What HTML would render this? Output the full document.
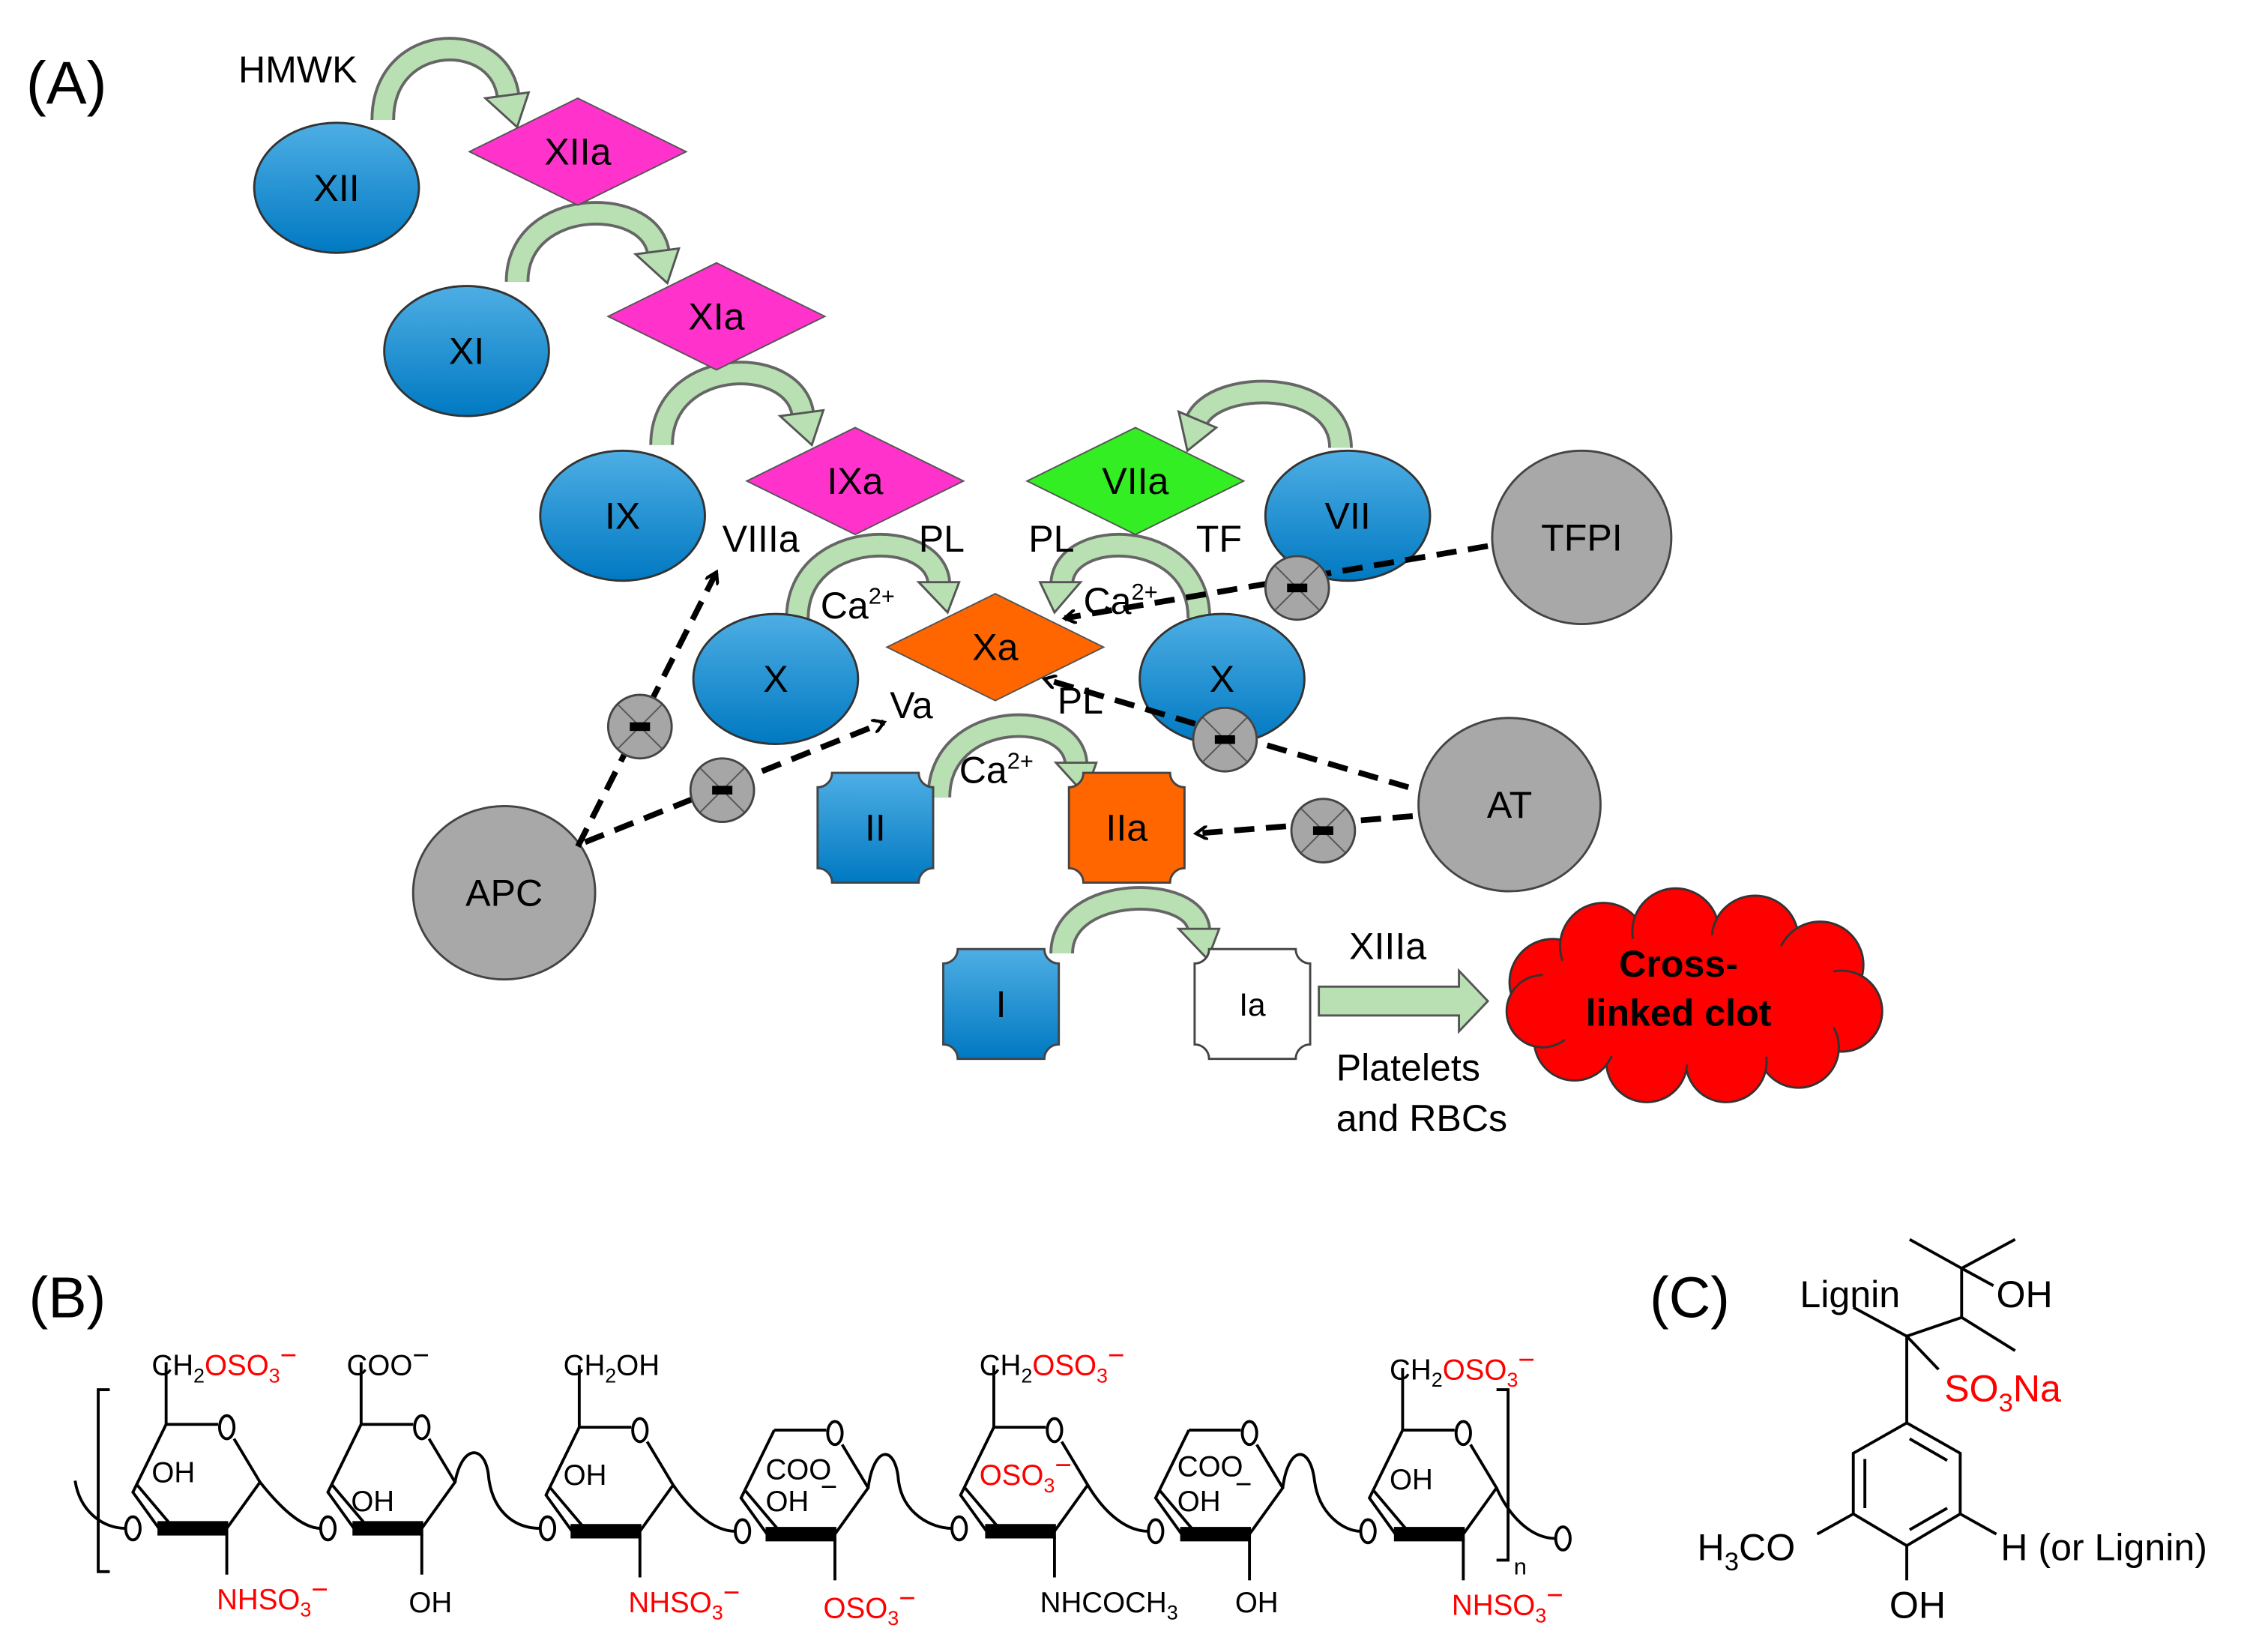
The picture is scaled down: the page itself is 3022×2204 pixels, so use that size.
<!DOCTYPE html>
<html><head><meta charset="utf-8"><style>
html,body{margin:0;padding:0;background:#fff;}
svg{display:block;}
text{font-family:"Liberation Sans",sans-serif;}
</style></head><body>
<svg width="3022" height="2204" viewBox="0 0 1568 1143.6" preserveAspectRatio="none" xmlns="http://www.w3.org/2000/svg">
<defs>
<linearGradient id="bl" x1="0" y1="0" x2="0" y2="1"><stop offset="0" stop-color="#4eaee4"/><stop offset="1" stop-color="#0079c2"/></linearGradient>
<marker id="ah" markerWidth="10" markerHeight="10" refX="8" refY="5" orient="auto" markerUnits="userSpaceOnUse" viewBox="0 0 10 10"><path d="M0,0 L8,5 L0,10" fill="none" stroke="#000" stroke-width="2.2"/></marker>
<g id="inh"><circle r="22" fill="#a6a6a6" stroke="#444" stroke-width="1.5"/><path d="M-15,-15 L15,15 M15,-15 L-15,15" stroke="#555" stroke-width="1"/><rect x="-7" y="-3" width="14" height="6" fill="#000"/></g>
<g id="ring" fill="none" stroke="#000" stroke-width="2">
<path d="M-6,-2 L-42,-2 M-42,-2 L-65,45 L-47,70 M0,70 L23,38 L5,8"/>
<path d="M-47,66 L0,66 L0,74 L-47,74 Z" fill="#000"/>
<path d="M-62,40 L-40,66" />
<ellipse cx="0" cy="0" rx="5" ry="8"/>
</g>
<path id="up" d="M-42,-2 L-42,-45" fill="none" stroke="#000" stroke-width="2"/>
</defs>
<rect width="1568" height="1144" fill="#fff"/>

<!-- Panel A -->
<text x="18" y="72" font-size="42">(A)</text>
<text x="165" y="57" font-size="26">HMWK</text>

<g>
<g stroke="#666" stroke-width="17" fill="none">
<path d="M265,83 C265,20 350,20 352,70"/>
<path d="M358,195 C358,135 455,135 456,178"/>
<path d="M458,308 C458,245 555,245 556,290"/>
<path d="M928,310 C928,262 840,262 828,292"/>
<path d="M552,428 C552,365 650,365 650,405"/>
<path d="M830,428 C830,365 735,365 735,405"/>
<path d="M650,552 C650,490 745,490 745,530"/>
<path d="M735,660 C735,612 830,612 830,645"/>
</g>
<g stroke="#b9e0b3" stroke-width="13" fill="none">
<path d="M265,83 C265,20 350,20 352,70"/>
<path d="M358,195 C358,135 455,135 456,178"/>
<path d="M458,308 C458,245 555,245 556,290"/>
<path d="M928,310 C928,262 840,262 828,292"/>
<path d="M552,428 C552,365 650,365 650,405"/>
<path d="M830,428 C830,365 735,365 735,405"/>
<path d="M650,552 C650,490 745,490 745,530"/>
<path d="M735,660 C735,612 830,612 830,645"/>
</g>
<g fill="#b9e0b3" stroke="#555" stroke-width="1.5">
<path d="M336,68 L366,64 L358,88 Z"/>
<path d="M440,176 L470,172 L462,196 Z"/>
<path d="M540,288 L570,284 L562,308 Z"/>
<path d="M816,285 L842,296 L822,312 Z"/>
<path d="M636,403 L664,403 L656,424 Z"/>
<path d="M720,403 L748,403 L730,424 Z"/>
<path d="M731,528 L759,528 L751,550 Z"/>
<path d="M816,643 L844,643 L836,664 Z"/>
</g>
</g>

<g stroke="#333" stroke-width="1.5" fill="url(#bl)">
<ellipse cx="233" cy="130" rx="57" ry="45"/>
<ellipse cx="323" cy="243" rx="57" ry="45"/>
<ellipse cx="431" cy="357" rx="57" ry="45"/>
<ellipse cx="933" cy="357" rx="57" ry="45"/>
<ellipse cx="537" cy="470" rx="57" ry="45"/>
<ellipse cx="846" cy="470" rx="57" ry="45"/>
</g>
<g stroke="#444" stroke-width="1.5" fill="#a8a8a8">
<ellipse cx="1095" cy="372" rx="62" ry="60"/>
<ellipse cx="1045" cy="557" rx="63" ry="60"/>
<ellipse cx="349" cy="618" rx="63" ry="60"/>
</g>
<g stroke="#555" stroke-width="1">
<path d="M325,105 L400,68 L475,105 L400,142 Z" fill="#ff33cc"/>
<path d="M421,219 L496,182 L571,219 L496,256 Z" fill="#ff33cc"/>
<path d="M517,333 L592,296 L667,333 L592,370 Z" fill="#ff33cc"/>
<path d="M711,333 L786,296 L861,333 L786,370 Z" fill="#33ee22"/>
<path d="M614,448 L689,411 L764,448 L689,485 Z" fill="#ff6600"/>
</g>
<g stroke="#444" stroke-width="1.5">
<path d="M576,535 L636,535 A10,10 0 0 0 646,545 L646,601 A10,10 0 0 0 636,611 L576,611 A10,10 0 0 0 566,601 L566,545 A10,10 0 0 0 576,535 Z" fill="url(#bl)"/>
<path d="M750,535 L810,535 A10,10 0 0 0 820,545 L820,601 A10,10 0 0 0 810,611 L750,611 A10,10 0 0 0 740,601 L740,545 A10,10 0 0 0 750,535 Z" fill="#ff6600"/>
<path d="M663,657 L723,657 A10,10 0 0 0 733,667 L733,723 A10,10 0 0 0 723,733 L663,733 A10,10 0 0 0 653,723 L653,667 A10,10 0 0 0 663,657 Z" fill="url(#bl)"/>
<path d="M837,657 L897,657 A10,10 0 0 0 907,667 L907,723 A10,10 0 0 0 897,733 L837,733 A10,10 0 0 0 827,723 L827,667 A10,10 0 0 0 837,657 Z" fill="#fff"/>
</g>

<g stroke="#000" stroke-width="4" stroke-dasharray="14,8" fill="none" marker-end="url(#ah)">
<path d="M400,586 L496,396"/>
<path d="M405,583 L612,500"/>
<path d="M1030,378 L737,428"/>
<path d="M975,545 L723,470"/>
<path d="M978,565 L828,577"/>
</g>
<use href="#inh" x="443" y="503"/>
<use href="#inh" x="500" y="547"/>
<use href="#inh" x="848" y="512"/>
<use href="#inh" x="916" y="575"/>
<use href="#inh" x="898" y="407"/>

<g font-size="26" text-anchor="middle" fill="#000">
<text x="233" y="139">XII</text>
<text x="400" y="114">XIIa</text>
<text x="323" y="252">XI</text>
<text x="496" y="228">XIa</text>
<text x="431" y="366">IX</text>
<text x="592" y="342">IXa</text>
<text x="786" y="342">VIIa</text>
<text x="933" y="366">VII</text>
<text x="1095" y="381">TFPI</text>
<text x="537" y="479">X</text>
<text x="846" y="479">X</text>
<text x="689" y="457">Xa</text>
<text x="606" y="582">II</text>
<text x="780" y="582">IIa</text>
<text x="1045" y="566">AT</text>
<text x="349" y="627">APC</text>
<text x="693" y="704">I</text>
<text x="867" y="703" font-size="22">Ia</text>
</g>
<g font-size="26">
<text x="500" y="382">VIIIa</text>
<text x="636" y="382">PL</text>
<text x="712" y="382">PL</text>
<text x="828" y="382">TF</text>
<text x="568" y="428">Ca<tspan font-size="16" dy="-10">2+</tspan></text>
<text x="750" y="425">Ca<tspan font-size="16" dy="-10">2+</tspan></text>
<text x="616" y="497">Va</text>
<text x="732" y="494">PL</text>
<text x="664" y="542">Ca<tspan font-size="16" dy="-10">2+</tspan></text>
<text x="934" y="664">XIIIa</text>
<text x="925" y="748">Platelets</text>
<text x="925" y="783">and RBCs</text>
</g>
<path d="M913,683 L1010,683 L1010,672 L1030,693 L1010,714 L1010,703 L913,703 Z" fill="#b9e0b3" stroke="#555" stroke-width="1.5"/>
<g fill="#f00" stroke="#333" stroke-width="1.5">
<circle cx="1075" cy="680" r="30"/>
<circle cx="1110" cy="655" r="30"/>
<circle cx="1160" cy="645" r="30"/>
<circle cx="1215" cy="650" r="30"/>
<circle cx="1260" cy="668" r="30"/>
<circle cx="1275" cy="700" r="28"/>
<circle cx="1245" cy="725" r="28"/>
<circle cx="1195" cy="735" r="28"/>
<circle cx="1140" cy="735" r="28"/>
<circle cx="1090" cy="720" r="28"/>
<circle cx="1068" cy="700" r="25"/>
</g>
<ellipse cx="1170" cy="692" rx="110" ry="45" fill="#f00"/>
<g font-size="26" font-weight="bold" text-anchor="middle">
<text x="1162" y="676">Cross-</text>
<text x="1162" y="710">linked clot</text>
</g>

<!-- Panel B -->
<text x="20" y="912" font-size="40">(B)</text>
<use href="#ring" x="157" y="988"/><use href="#up" x="157" y="988"/>
<use href="#ring" x="292" y="988"/><use href="#up" x="292" y="988"/>
<use href="#ring" x="443" y="990"/><use href="#up" x="443" y="990"/>
<use href="#ring" x="578" y="992"/>
<use href="#ring" x="730" y="990"/><use href="#up" x="730" y="990"/>
<use href="#ring" x="865" y="992"/>
<use href="#ring" x="1013" y="992"/><use href="#up" x="1013" y="992"/>
<g fill="none" stroke="#000" stroke-width="2">
<ellipse cx="92" cy="1058" rx="5" ry="8"/>
<ellipse cx="227" cy="1058" rx="5" ry="8"/>
<ellipse cx="379" cy="1058" rx="5" ry="8"/>
<ellipse cx="514" cy="1060" rx="5" ry="8"/>
<ellipse cx="664" cy="1058" rx="5" ry="8"/>
<ellipse cx="800" cy="1060" rx="5" ry="8"/>
<ellipse cx="947" cy="1060" rx="5" ry="8"/>
<ellipse cx="1082" cy="1065" rx="5" ry="8"/>
<path d="M87,1058 C70,1058 55,1045 52,1025"/>
<path d="M180,1026 C195,1045 210,1058 222,1058"/>
<path d="M315,1026 C320,1000 335,1000 338,1020 C340,1045 355,1058 374,1058"/>
<path d="M466,1028 C480,1048 495,1060 509,1060"/>
<path d="M601,1030 C605,1000 620,1000 622,1025 C625,1048 645,1058 659,1058"/>
<path d="M753,1028 C765,1048 780,1060 795,1060"/>
<path d="M888,1030 C892,1000 907,1000 910,1025 C913,1048 930,1060 942,1060"/>
<path d="M1036,1030 C1045,1050 1060,1065 1077,1065"/>
<path d="M157,1062 L157,1090 M292,1062 L292,1090 M443,1064 L443,1092 M578,1066 L578,1094 M730,1064 L730,1092 M865,1066 L865,1094 M1013,1066 L1013,1094"/>
<path d="M76,962 L68,962 L68,1088 L76,1088"/>
<path d="M1036,962 L1044,962 L1044,1080 L1036,1080"/>
</g>
<g font-size="20">
<text x="105" y="952">CH<tspan font-size="14" dy="5">2</tspan><tspan dy="-5" fill="#f00">OSO<tspan font-size="14" dy="5">3</tspan><tspan dy="-12">−</tspan></tspan></text>
<text x="105" y="1026">OH</text>
<text x="150" y="1114" fill="#f00">NHSO<tspan font-size="14" dy="5">3</tspan><tspan dy="-12">−</tspan></text>
<text x="240" y="952">COO<tspan dy="-7">−</tspan></text>
<text x="243" y="1046">OH</text>
<text x="283" y="1116">OH</text>
<text x="390" y="952">CH<tspan font-size="14" dy="5">2</tspan><tspan dy="-5">OH</tspan></text>
<text x="390" y="1028">OH</text>
<text x="435" y="1116" fill="#f00">NHSO<tspan font-size="14" dy="5">3</tspan><tspan dy="-12">−</tspan></text>
<text x="530" y="1024">COO</text><text x="568" y="1036">−</text>
<text x="530" y="1046">OH</text>
<text x="570" y="1120" fill="#f00">OSO<tspan font-size="14" dy="5">3</tspan><tspan dy="-12">−</tspan></text>
<text x="678" y="952">CH<tspan font-size="14" dy="5">2</tspan><tspan dy="-5" fill="#f00">OSO<tspan font-size="14" dy="5">3</tspan><tspan dy="-12">−</tspan></tspan></text>
<text x="678" y="1028" fill="#f00">OSO<tspan font-size="14" dy="5">3</tspan><tspan dy="-12">−</tspan></text>
<text x="720" y="1116">NHCOCH<tspan font-size="14" dy="5">3</tspan></text>
<text x="815" y="1022">COO</text><text x="855" y="1034">−</text>
<text x="815" y="1046">OH</text>
<text x="855" y="1116">OH</text>
<text x="962" y="955">CH<tspan font-size="14" dy="5">2</tspan><tspan dy="-5" fill="#f00">OSO<tspan font-size="14" dy="5">3</tspan><tspan dy="-12">−</tspan></tspan></text>
<text x="962" y="1031">OH</text>
<text x="1005" y="1118" fill="#f00">NHSO<tspan font-size="14" dy="5">3</tspan><tspan dy="-12">−</tspan></text>
<text x="1048" y="1090" font-size="16">n</text>
</g>

<!-- Panel C -->
<text x="1142" y="912" font-size="40">(C)</text>
<g fill="none" stroke="#000" stroke-width="2">
<path d="M1320,985 L1357,1006 L1357,1048 L1320,1070 L1283,1048 L1283,1006 Z"/>
<path d="M1322,996 L1348,1011 M1348,1044 L1322,1059 M1291,1010 L1291,1044"/>
<path d="M1320,985 L1320,925 M1320,1070 L1320,1094 M1283,1048 L1258,1062 M1357,1048 L1382,1062"/>
<path d="M1320,925 L1283,905 M1320,925 L1358,912 M1320,925 L1342,948"/>
<path d="M1358,912 L1395,935 M1358,912 L1358,878 M1358,878 L1322,858 M1358,878 L1395,858 M1358,878 L1380,890"/>
</g>
<g font-size="26">
<text x="1246" y="905">Lignin</text>
<text x="1382" y="905">OH</text>
<text x="1346" y="970" fill="#f00">SO<tspan font-size="18" dy="7">3</tspan><tspan dy="-7">Na</tspan></text>
<text x="1175" y="1080">H<tspan font-size="18" dy="7">3</tspan><tspan dy="-7">CO</tspan></text>
<text x="1385" y="1080">H (or Lignin)</text>
<text x="1308" y="1120">OH</text>
</g>
</svg>
</body></html>
